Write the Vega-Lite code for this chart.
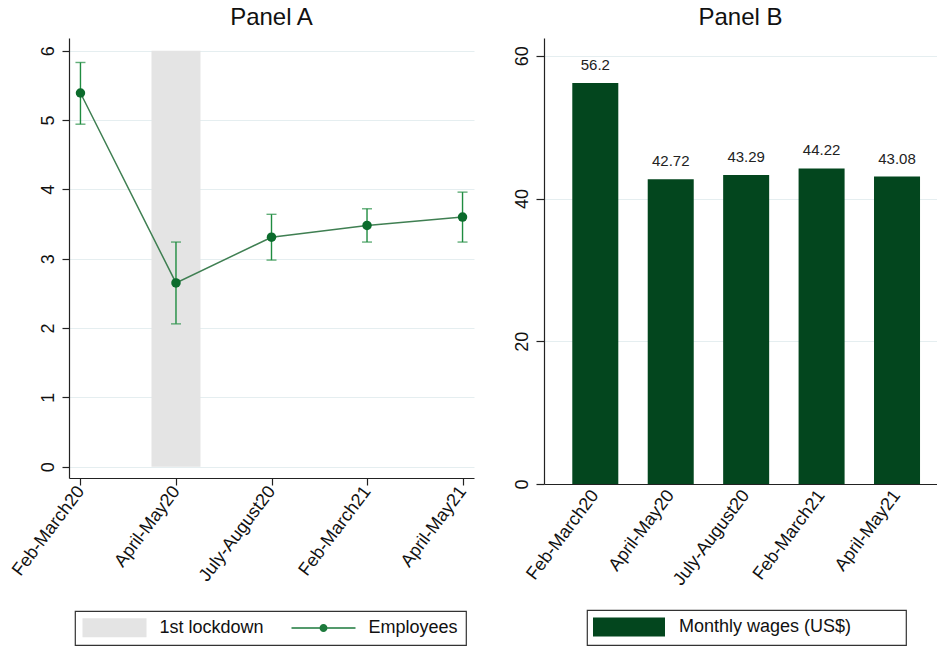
{
  "$schema": "https://vega.github.io/schema/vega-lite/v6.json",
  "background": "white",
  "padding": {"left": 8, "top": 6, "right": 0, "bottom": 0},
  "spacing": 39,
  "resolve": {
    "scale": {"color": "independent", "shape": "independent"},
    "legend": {"color": "independent", "shape": "independent"}
  },
  "config": {
    "font": "Liberation Sans",
    "view": {"stroke": null},
    "title": {"fontSize": 24, "fontWeight": "normal", "color": "#111", "offset": 8, "font": "Liberation Sans"},
    "axis": {
      "title": null,
      "labelFont": "Liberation Sans",
      "labelFontSize": 18,
      "labelColor": "#111",
      "domainColor": "#222",
      "domainWidth": 1.2,
      "tickColor": "#222",
      "tickWidth": 1.2,
      "tickSize": 7,
      "gridColor": "#e5eef0",
      "gridWidth": 1
    },
    "legend": {
      "labelFont": "Liberation Sans",
      "labelFontSize": 18,
      "labelColor": "#111",
      "labelLimit": 400,
      "strokeColor": "#333",
      "strokeWidth": 1.2,
      "fillColor": "white"
    }
  },
  "datasets": {
    "employees": [
      {"period": "Feb-March20", "series": "Employees", "estimate": 5.39, "lower": 4.94, "upper": 5.83},
      {"period": "April-May20", "series": "Employees", "estimate": 2.65, "lower": 2.06, "upper": 3.24},
      {"period": "July-August20", "series": "Employees", "estimate": 3.31, "lower": 2.98, "upper": 3.64},
      {"period": "Feb-March21", "series": "Employees", "estimate": 3.48, "lower": 3.24, "upper": 3.72},
      {"period": "April-May21", "series": "Employees", "estimate": 3.6, "lower": 3.24, "upper": 3.96}
    ],
    "lockdown": [
      {"period": "April-May20", "series": "1st lockdown", "shade": 6}
    ],
    "wages": [
      {"period": "Feb-March20", "series": "Monthly wages (US$)", "wage": 56.2},
      {"period": "April-May20", "series": "Monthly wages (US$)", "wage": 42.72},
      {"period": "July-August20", "series": "Monthly wages (US$)", "wage": 43.29},
      {"period": "Feb-March21", "series": "Monthly wages (US$)", "wage": 44.22},
      {"period": "April-May21", "series": "Monthly wages (US$)", "wage": 43.08}
    ]
  },
  "hconcat": [
    {
      "title": "Panel A",
      "width": 405,
      "height": 440,
      "encoding": {
        "x": {
          "field": "period",
          "type": "nominal",
          "scale": {
            "type": "point",
            "padding": 0.12,
            "domain": ["Feb-March20", "April-May20", "July-August20", "Feb-March21", "April-May21"]
          },
          "axis": {"labelAngle": -53, "labelPadding": 3, "grid": false}
        }
      },
      "layer": [
        {
          "data": {"name": "lockdown"},
          "mark": {"type": "bar", "width": 49, "color": "#e4e4e4"},
          "encoding": {
            "y": {
              "field": "shade",
              "type": "quantitative",
              "stack": null,
              "scale": {"domain": [-0.163, 6.183], "nice": false, "zero": false},
              "axis": {"values": [0, 1, 2, 3, 4, 5, 6], "format": "d", "grid": true, "labelAngle": -90, "labelPadding": 5}
            }
          }
        },
        {
          "data": {"name": "employees"},
          "mark": {"type": "rule", "color": "#1f8c40", "strokeWidth": 1.4},
          "encoding": {
            "y": {"field": "lower", "type": "quantitative"},
            "y2": {"field": "upper"}
          }
        },
        {
          "data": {"name": "employees"},
          "mark": {"type": "tick", "color": "#1f8c40", "size": 10, "thickness": 1.4},
          "encoding": {"y": {"field": "lower", "type": "quantitative"}}
        },
        {
          "data": {"name": "employees"},
          "mark": {"type": "tick", "color": "#1f8c40", "size": 10, "thickness": 1.4},
          "encoding": {"y": {"field": "upper", "type": "quantitative"}}
        },
        {
          "data": {"name": "employees"},
          "mark": {"type": "line", "color": "#3f7f52", "strokeWidth": 1.5},
          "encoding": {"y": {"field": "estimate", "type": "quantitative"}}
        },
        {
          "data": {"name": "employees"},
          "mark": {"type": "point", "filled": true, "size": 90, "opacity": 1, "shape": "circle", "color": "#0b6b2c"},
          "encoding": {"y": {"field": "estimate", "type": "quantitative"}}
        },
        {
          "data": {"name": "employees"},
          "mark": {"type": "point", "filled": true, "size": 0, "opacity": 1},
          "encoding": {
            "y": {"field": "estimate", "type": "quantitative"},
            "color": {
              "field": "series",
              "type": "nominal",
              "scale": {"domain": ["1st lockdown", "Employees"], "range": ["#e4e4e4", "#1d7a3c"]},
              "legend": {
                "title": null, "orient": "none", "legendX": 6, "legendY": 573, "direction": "horizontal",
                "symbolSize": 4, "symbolStrokeWidth": 0, "symbolOffset": 23, "labelOffset": 36,
                "columnPadding": 27, "padding": 7.5, "symbolOpacity": 1
              }
            },
            "shape": {
              "field": "series",
              "type": "nominal",
              "scale": {
                "domain": ["1st lockdown", "Employees"],
                "range": [
                  "M-32,-9.5H32V9.5H-32Z",
                  "M-32,-0.7H32V0.7H-32Z M-4,0A4,4 0 1,1 4,0A4,4 0 1,1 -4,0Z"
                ]
              },
              "legend": {
                "title": null, "orient": "none", "legendX": 6, "legendY": 573, "direction": "horizontal",
                "symbolSize": 4, "symbolStrokeWidth": 0, "symbolOffset": 23, "labelOffset": 36,
                "columnPadding": 27, "padding": 7.5, "symbolOpacity": 1
              }
            }
          }
        }
      ]
    },
    {
      "title": "Panel B",
      "width": 393,
      "height": 446,
      "data": {"name": "wages"},
      "encoding": {
        "x": {
          "field": "period",
          "type": "nominal",
          "sort": null,
          "scale": {"paddingInner": 0.39, "paddingOuter": 0.3, "align": 0.625},
          "axis": {"labelAngle": -53, "labelPadding": 8, "ticks": false, "grid": false}
        },
        "y": {
          "field": "wage",
          "type": "quantitative",
          "scale": {"domain": [0, 62.5], "nice": false},
          "axis": {"values": [0, 20, 40, 60], "grid": true, "labelAngle": -90, "labelPadding": 5, "tickSize": 8}
        }
      },
      "layer": [
        {
          "mark": {"type": "bar"},
          "encoding": {
            "color": {
              "field": "series",
              "type": "nominal",
              "scale": {"range": ["#03461e"]},
              "legend": {
                "title": null, "orient": "none", "legendX": 43, "legendY": 572, "direction": "horizontal",
                "symbolType": "M-36,-9.5H36V9.5H-36Z M269,0", "symbolSize": 4, "symbolStrokeWidth": 0,
                "symbolOffset": 25, "labelOffset": 41, "padding": 8, "symbolOpacity": 1
              }
            }
          }
        },
        {
          "mark": {"type": "text", "baseline": "alphabetic", "dy": -13, "fontSize": 15, "color": "#222", "font": "Liberation Sans"},
          "encoding": {"text": {"field": "wage", "type": "quantitative", "format": "~g"}}
        }
      ]
    }
  ]
}
